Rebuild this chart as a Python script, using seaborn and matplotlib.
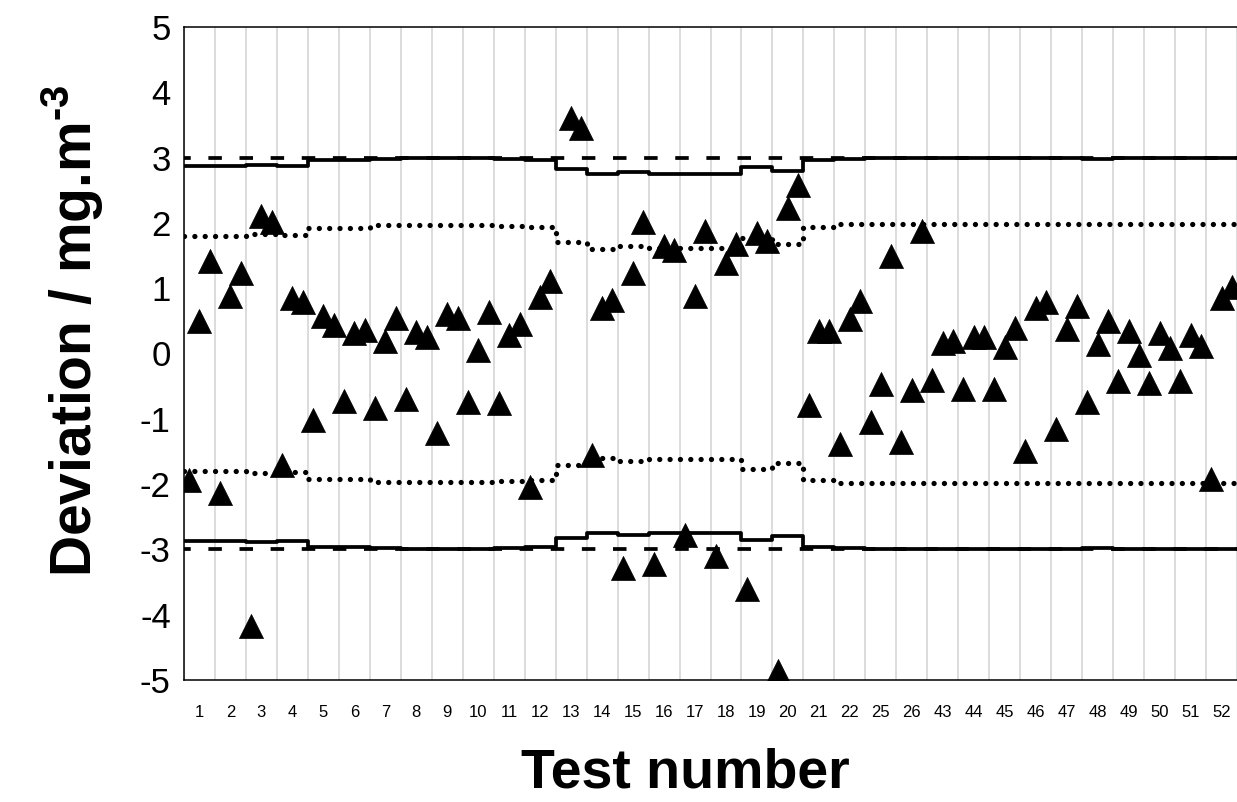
import numpy as np
import pandas as pd
import matplotlib
matplotlib.use("Agg")
import matplotlib.pyplot as plt
import seaborn as sns

# Test numbers on the x axis
tests = [str(i) for i in range(1, 23)] + ["25", "26"] + [str(i) for i in range(43, 53)]

# Three results per test (left, middle, right position inside each test slot)
dev_left = [-1.93, -2.14, -4.18, -1.70, -1.02, -0.73, -0.83, -0.69, -1.21, -0.75, -0.76, -2.04,
            np.nan, -1.55, -3.28, -3.22, -2.78, -3.10, -3.60, -4.86, -0.79, -1.38, -1.05, -1.35,
            -0.41, -0.54, -0.54, -1.49, -1.16, -0.75, -0.42, -0.45, -0.42, -1.92]
dev_mid = [0.50, 0.88, 2.11, 0.85, 0.57, 0.32, 0.19, 0.33, 0.61, 0.05, 0.29, 0.87,
           3.60, 0.70, 1.23, 1.64, 0.88, 1.38, 1.85, 2.23, 0.35, 0.53, -0.47, -0.56,
           0.16, 0.25, 0.10, 0.69, 0.37, 0.14, 0.34, 0.31, 0.28, 0.85]
dev_right = [1.41, 1.23, 2.02, 0.79, 0.43, 0.36, 0.55, 0.26, 0.54, 0.64, 0.45, 1.11,
             3.46, 0.82, 2.02, 1.58, 1.88, 1.68, 1.72, 2.58, 0.35, 0.80, 1.50, 1.88,
             0.19, 0.25, 0.39, 0.79, 0.72, 0.50, -0.03, 0.08, 0.11, 1.02]

# Limits per test (symmetric around zero)
limit_solid = [2.87, 2.87, 2.89, 2.87, 2.97, 2.96, 2.98, 2.99, 2.99, 2.99, 2.98, 2.97,
               2.82, 2.75, 2.78, 2.75, 2.75, 2.75, 2.86, 2.79, 2.96, 2.98, 2.99, 2.99,
               2.99, 2.99, 2.99, 2.99, 2.99, 2.98, 2.99, 2.99, 2.99, 2.99]
limit_dotted = [1.80, 1.80, 1.83, 1.81, 1.92, 1.92, 1.97, 1.97, 1.97, 1.97, 1.95, 1.94,
                1.71, 1.60, 1.65, 1.61, 1.62, 1.61, 1.77, 1.67, 1.93, 1.98, 1.98, 1.98,
                1.98, 1.98, 1.98, 1.99, 1.99, 1.98, 1.99, 1.99, 1.99, 1.99]
limit_dashed = 3.0

n = len(tests)

# Points table: x position inside each slot
pts = pd.concat([
    pd.DataFrame({"x": np.arange(n) + 1 / 6, "dev": dev_left}),
    pd.DataFrame({"x": np.arange(n) + 0.5, "dev": dev_mid}),
    pd.DataFrame({"x": np.arange(n) + 5 / 6, "dev": dev_right}),
]).dropna()

edges = np.arange(n + 1)
solid_up = np.array(limit_solid + [limit_solid[-1]])
dot_up = np.array(limit_dotted + [limit_dotted[-1]])

sns.set_style("white")
plt.rcParams["font.family"] = ["Liberation Sans", "DejaVu Sans"]
plt.rcParams["axes.unicode_minus"] = False
plt.rcParams["mathtext.fontset"] = "custom"
plt.rcParams["mathtext.rm"] = "Liberation Sans:bold"
plt.rcParams["mathtext.bf"] = "Liberation Sans:bold"
for key in ("text.color", "axes.labelcolor", "xtick.color", "ytick.color"):
    plt.rcParams[key] = "black"

fig = plt.figure(figsize=(12.37, 8.02), dpi=100)
ax = fig.add_axes([184 / 1237, 1 - 680 / 802, 1 - 184 / 1237, (680 - 27) / 802])


def styled(line, lw, ls, cap="butt"):
    line.set_linewidth(lw)
    line.set_linestyle(ls)
    line.set_dash_capstyle(cap)


for sgn in (1, -1):
    # dashed +-3 lines
    sns.lineplot(x=[0, n], y=[sgn * limit_dashed] * 2, ax=ax, color="black", zorder=2)
    styled(ax.lines[-1], 2.7, (1.8, (3.6, 4.7)))
    # solid step limits
    sns.lineplot(x=edges, y=sgn * solid_up, ax=ax, color="black",
                 drawstyle="steps-post", zorder=3)
    styled(ax.lines[-1], 2.7, "-")
    # dotted step limits
    sns.lineplot(x=edges, y=sgn * dot_up, ax=ax, color="black",
                 drawstyle="steps-post", zorder=3)
    styled(ax.lines[-1], 3.8, (0, (0.01, 1.95)), cap="round")

sns.scatterplot(data=pts, x="x", y="dev", ax=ax, marker="^", s=300, color="black",
                edgecolor="black", linewidth=0.5, zorder=4)

ax.set_xlim(0, n)
ax.set_ylim(-5, 5)

ax.set_xticks(edges)
ax.set_xticklabels([])
ax.set_xticks(np.arange(n) + 0.5, minor=True)
ax.set_xticklabels(tests, minor=True, fontsize=12)
ax.tick_params(axis="x", which="major", direction="out", length=4.5, width=1.1, color="black")
ax.tick_params(axis="x", which="minor", length=0, pad=18)
ax.set_yticks(range(-5, 6))
ax.tick_params(axis="y", direction="out", length=4.5, width=1.1, color="black",
               labelsize=25, pad=5)

ax.grid(True, axis="x", which="major", color="#d9d9d9", lw=1.3)
ax.grid(False, axis="y")
ax.set_axisbelow(True)

for side in ("left", "bottom", "top"):
    ax.spines[side].set_color("black")
    ax.spines[side].set_linewidth(1.1)
ax.spines["right"].set_visible(False)

ax.set_xlabel("Test number", fontsize=40, fontweight="bold")
ax.xaxis.set_label_coords(0.476, -0.103)
ax.set_ylabel("Deviation / mg.m$^{\\text{-}3}$", fontsize=41, fontweight="bold")
ax.yaxis.set_label_coords(-0.074, 0.535)

fig.savefig("out.png", dpi=100)
